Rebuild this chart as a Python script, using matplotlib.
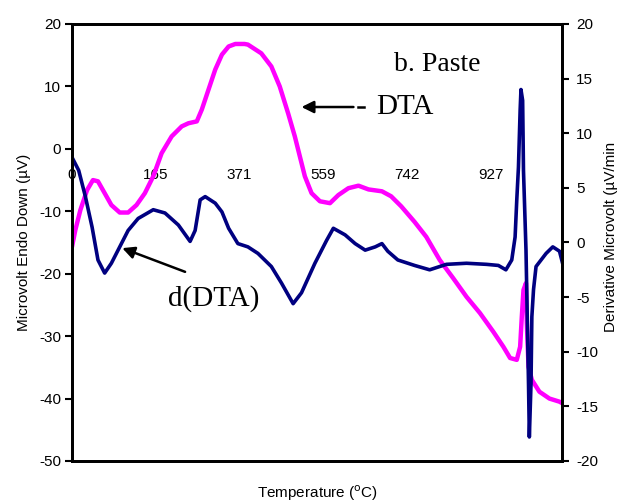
import matplotlib.pyplot as plt

plt.rcParams['font.family'] = ['Liberation Sans', 'DejaVu Sans']
plt.rcParams['axes.unicode_minus'] = False

# category-axis positions (one unit per labelled tick) and tick labels
tick_pos = [0, 1, 2, 3, 4, 5]
tick_labels = ['0', '165', '371', '559', '742', '927']

# DTA signal, left axis (microvolt)
dta_x = [0.00, 0.04, 0.10, 0.18, 0.25, 0.31, 0.39, 0.47, 0.57, 0.67, 0.77,
         0.87, 0.97, 1.07, 1.19, 1.31, 1.39, 1.49, 1.55, 1.63, 1.71, 1.79,
         1.87, 1.95, 2.06, 2.10, 2.26, 2.38, 2.48, 2.58, 2.66, 2.72, 2.78,
         2.86, 2.96, 3.08, 3.18, 3.30, 3.42, 3.54, 3.70, 3.81, 3.93, 4.09,
         4.23, 4.39, 4.55, 4.71, 4.87, 5.03, 5.15, 5.23, 5.31, 5.35, 5.37,
         5.39, 5.42, 5.43, 5.45, 5.49, 5.58, 5.70, 5.82, 5.86]
dta_y = [-15.7, -13.0, -9.8, -6.6, -5.0, -5.2, -7.1, -9.0, -10.2, -10.2, -9.0,
         -7.1, -4.4, -0.7, 2.0, 3.6, 4.1, 4.4, 6.3, 9.5, 12.7, 15.1,
         16.4, 16.8, 16.8, 16.7, 15.3, 13.2, 10.0, 5.7, 2.0, -1.2, -4.4,
         -7.1, -8.4, -8.7, -7.4, -6.3, -5.9, -6.5, -6.8, -7.6, -9.2, -11.7,
         -14.1, -17.8, -20.7, -23.7, -26.3, -29.3, -31.7, -33.5, -33.8, -31.7, -26.9,
         -22.6, -21.5, -27.9, -34.9, -37.0, -38.9, -40.0, -40.5, -40.8]

# derivative of DTA, right axis (microvolt / min)
ddta_x = [0.00, 0.08, 0.16, 0.24, 0.31, 0.39, 0.47, 0.57, 0.67, 0.79, 0.97,
          1.11, 1.27, 1.41, 1.47, 1.53, 1.59, 1.71, 1.79, 1.87, 1.98, 2.10,
          2.22, 2.38, 2.50, 2.64, 2.74, 2.90, 3.04, 3.12, 3.26, 3.38, 3.50,
          3.62, 3.70, 3.77, 3.89, 4.09, 4.27, 4.47, 4.71, 4.95, 5.09, 5.18,
          5.25, 5.29, 5.31, 5.33, 5.35, 5.36, 5.38, 5.39, 5.42, 5.45, 5.46,
          5.48, 5.49, 5.51, 5.54, 5.66, 5.74, 5.82, 5.86]
ddta_y = [7.8, 6.6, 4.2, 1.4, -1.6, -2.8, -1.9, -0.4, 1.1, 2.2, 3.0,
          2.7, 1.6, 0.1, 1.1, 3.9, 4.2, 3.6, 2.8, 1.3, -0.1, -0.4,
          -1.0, -2.2, -3.7, -5.6, -4.6, -1.9, 0.2, 1.3, 0.7, -0.1, -0.7,
          -0.4, -0.1, -0.8, -1.6, -2.1, -2.5, -2.0, -1.9, -2.0, -2.1, -2.5,
          -1.6, 0.5, 3.9, 6.9, 12.1, 14.0, 13.0, 6.6, -0.7, -12.9, -17.8,
          -12.9, -6.8, -4.3, -2.2, -1.0, -0.4, -0.8, -2.0]

fig = plt.figure(figsize=(6.18, 5.03), dpi=100)
ax = fig.add_axes([0.1165, 0.0835, 0.7929, 0.8688])
ax2 = ax.twinx()

ax.plot(dta_x, dta_y, color='#FF00FF', linewidth=3.2,
        solid_capstyle='round', solid_joinstyle='round')
ax2.plot(ddta_x, ddta_y, color='#000080', linewidth=2.6,
         solid_capstyle='round', solid_joinstyle='round')

ax.set_xlim(0, 5.85)
ax.set_ylim(-50, 20)
ax.set_yticks(range(-50, 21, 10))
ax2.set_ylim(-20, 20)
ax2.set_yticks(range(-20, 21, 5))

ax.set_xticks([])
for a in (ax, ax2):
    for s in a.spines.values():
        s.set_linewidth(2.0)
ax.tick_params(axis='y', direction='out', length=5, width=1.5, labelsize=11, pad=3)
ax2.tick_params(axis='y', direction='out', length=5, width=1.5, labelsize=11, pad=5)

# category axis crossing at y = 0
sec = ax.secondary_xaxis(50 / 70)
sec.xaxis.set_ticks_position('bottom')
sec.set_xticks(tick_pos)
sec.set_xticklabels(tick_labels)
sec.tick_params(axis='x', length=0, labelsize=11, pad=14)
sec.spines['bottom'].set_linewidth(1.0)
sec.spines['top'].set_visible(False)

ax.set_xlabel('Temperature ($^{\\rm o}$C)', fontsize=11, labelpad=16)
ax.set_ylabel('Microvolt Endo Down (µV)', fontsize=11, labelpad=6)
fig.text(0.978, 0.529, 'Derivative Microvolt (µV/min', fontsize=11,
         rotation=90, ha='left', va='center')

serif = ['Liberation Serif', 'DejaVu Serif']
ax.text(3.85, 13.5, 'b. Paste', fontsize=20, family=serif, va='center', ha='left')
ax.text(3.63, 6.7, 'DTA', fontsize=21, family=serif, va='center', ha='left')
ax.text(1.15, -23.9, 'd(DTA)', fontsize=21, family=serif, va='center', ha='left')

ax.annotate('', xy=(2.74, 6.7), xytext=(3.36, 6.7),
            arrowprops=dict(arrowstyle='-|>', color='black', lw=1.8,
                            mutation_scale=18, shrinkA=0, shrinkB=0))
ax.plot([3.41, 3.49], [6.7, 6.7], color='black', linewidth=1.8)
ax.annotate('', xy=(0.60, -15.9), xytext=(1.35, -19.7),
            arrowprops=dict(arrowstyle='-|>', color='black', lw=1.8,
                            mutation_scale=18, shrinkA=0, shrinkB=0))

fig.savefig('out.png', dpi=100)
